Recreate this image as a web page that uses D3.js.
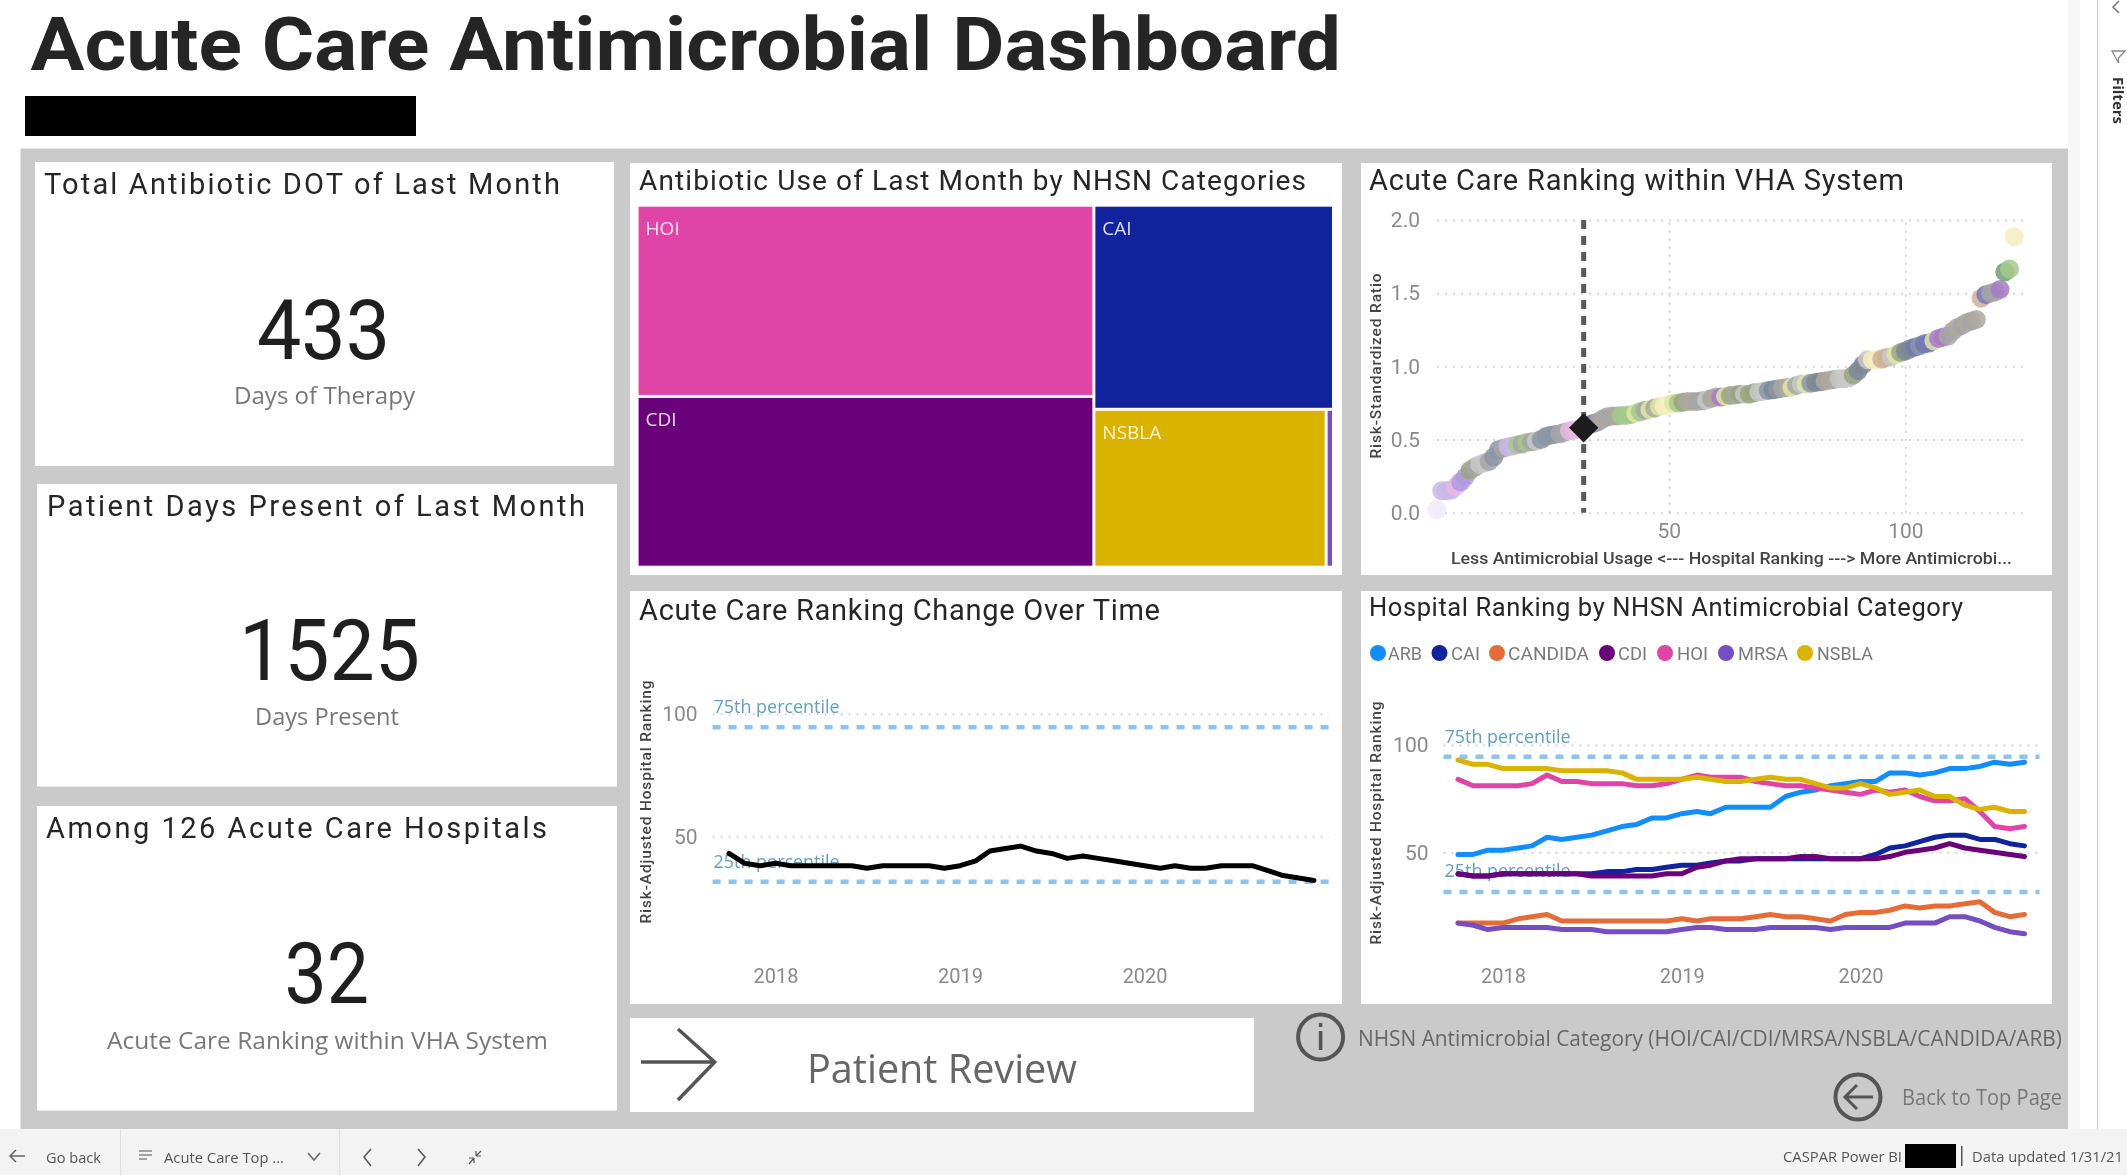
<!DOCTYPE html>
<html>
<head>
<meta charset="utf-8">
<title>Acute Care Antimicrobial Dashboard</title>
<script src="https://cdn.jsdelivr.net/npm/d3@7"></script>
<style>
  html, body { margin: 0; padding: 0; background: #fff; }
  svg { display: block; filter: blur(0.5px); }
  .tick text { font-family: Roboto, sans-serif; fill: #8a8a8a; }
</style>
</head>
<body>
<div id="chart"></div>
<script>
// treemap values, days of therapy of last month
const useHOI = 150, useCDI = 134, useCAI = 84, useNSBLA = 63, useMRSA = 2;

// risk-standardized ratio of each hospital, in ranking order (rank 1 first)
const ratioByRank = [
  0.02, 0.15, 0.15, 0.155, 0.18, 0.21, 0.245, 0.29, 0.31, 0.33,
  0.34, 0.35, 0.38, 0.43, 0.44, 0.45, 0.455, 0.465, 0.47, 0.48,
  0.485, 0.49, 0.50, 0.52, 0.53, 0.535, 0.54, 0.55, 0.56, 0.565,
  0.57, 0.58, 0.60, 0.61, 0.62, 0.64, 0.655, 0.66, 0.66, 0.665,
  0.665, 0.67, 0.68, 0.69, 0.70, 0.705, 0.715, 0.725, 0.73, 0.74,
  0.75, 0.75, 0.755, 0.76, 0.76, 0.76, 0.765, 0.77, 0.78, 0.79,
  0.79, 0.795, 0.80, 0.805, 0.81, 0.81, 0.81, 0.82, 0.825, 0.83,
  0.835, 0.84, 0.845, 0.85, 0.855, 0.855, 0.87, 0.88, 0.88, 0.885,
  0.89, 0.895, 0.90, 0.905, 0.91, 0.915, 0.915, 0.92, 0.94, 0.97,
  1.01, 1.045, 1.045, 1.045, 1.05, 1.06, 1.065, 1.08, 1.095, 1.105,
  1.12, 1.13, 1.14, 1.155, 1.16, 1.175, 1.19, 1.20, 1.205, 1.24,
  1.265, 1.28, 1.30, 1.31, 1.32, 1.465, 1.49, 1.50, 1.51, 1.525,
  1.645, 1.665, 1.885
];
const ourRank = 32;
const ratioTicks = [0, 0.5, 1, 1.5, 2];
const rankTicks = [50, 100];

// dot tone of each hospital, one letter per rank
const rankTones = (
  "paaaqbbico" + "oceecaafcf" + "coeeeeccqq" + "qnalcdccdf" +
  "ffgfcgdgjj" + "gfiddccocd" + "mgicioiioo" + "ehecdgcoge" +
  "hhdddoooih" + "hojjnnogih" + "hlellgmmcc" + "dcdcdnlccm" + "kfj").split("");

const rankingTicks = [50, 100];
const percentiles = [
  { name: "75th percentile", value: 94.5 },
  { name: "25th percentile", value: 31.5 }
];
const yearTicks = [2018, 2019, 2020];

// monthly hospital ranking, Oct 2017 to Dec 2020
const overallRanking = [43,39,38,39,38,38,38,38,38,37,38,38,38,38,37,38,40,44,45,46,44,43,41,42,41,40,39,38,37,38,37,37,38,38,38,36,34,33,32];
const arbRanking = [49,49,51,51,52,53,57,56,57,58,60,62,63,66,66,68,69,68,71,71,71,71,76,78,79,81,82,83,83,87,87,86,87,89,89,90,92,91,92];
const caiRanking = [40,39,39,40,40,40,40,40,40,40,41,41,42,42,43,44,44,45,46,46,47,47,47,47,47,47,47,47,49,52,53,55,57,58,58,56,56,54,53];
const candidaRanking = [17,17,17,17,19,20,21,18,18,18,18,18,18,18,18,19,18,19,19,19,20,21,20,20,19,18,21,22,22,23,25,24,25,25,26,27,22,20,21];
const cdiRanking = [40,39,39,40,40,40,40,40,40,39,39,39,39,39,40,40,43,44,46,47,47,47,47,48,48,47,47,47,47,48,50,51,52,54,52,51,50,49,48];
const hoiRanking = [84,81,81,81,81,82,86,83,83,82,82,82,81,81,82,84,86,85,85,85,83,82,81,81,80,79,78,77,79,78,79,76,74,74,75,69,62,61,62];
const mrsaRanking = [17,16,14,15,15,15,15,14,14,14,13,13,13,13,13,14,15,15,14,14,14,15,15,15,15,14,15,15,15,15,17,17,17,20,20,18,15,13,12];
const nsblaRanking = [93,91,91,89,89,89,89,88,88,88,88,87,84,84,84,84,85,84,83,83,84,85,84,84,82,80,80,82,80,77,78,79,76,76,72,70,71,69,69];

const months = d3.timeMonth.range(new Date(2017, 9, 1), new Date(2021, 0, 1));

const categoryColors = {
  ARB: "#118DFF", CAI: "#12239E", CANDIDA: "#E66C37", CDI: "#6B007B",
  HOI: "#E044A7", MRSA: "#744EC2", NSBLA: "#D9B300"
};
const toneColors = {
  a: "#c9b8e8", b: "#b09adf", c: "#a6a6a6", d: "#aea89f", e: "#8b95a6",
  f: "#a3c98b", g: "#dde6a6", h: "#7d8894", i: "#9aa47c", j: "#f6efbf",
  k: "#6f9d7a", l: "#7378b6", m: "#a87ac8", n: "#cdb097", o: "#c8c8c8",
  p: "#efeafb", q: "#e8b8e0"
};

const width = 2127;
const height = 1175;
const din = "Roboto, sans-serif";
const segoe = "'Open Sans', sans-serif";

const svg = d3.select("#chart").append("svg")
  .attr("width", width)
  .attr("height", height)
  .attr("viewBox", `0 0 ${width} ${height}`);

function box(x0, y0, x1, y1, fill) {
  return svg.append("rect")
    .attr("x", x0).attr("y", y0)
    .attr("width", x1 - x0).attr("height", y1 - y0)
    .attr("fill", fill);
}

// text squeezed to the width it has in the screenshot
function label(text, x0, x1, baseline, size, font, fill, weight) {
  return svg.append("text")
    .attr("x", x0).attr("y", baseline)
    .attr("textLength", x1 - x0)
    .attr("lengthAdjust", "spacingAndGlyphs")
    .attr("font-family", font)
    .attr("font-size", size)
    .attr("font-weight", weight || 400)
    .attr("fill", fill)
    .text(text);
}

// card titles keep their glyphs, the original font has a bit of tracking
function cardTitle(text, x0, x1, baseline, size) {
  return label(text, x0, x1, baseline, size || 29, din, "#262626").attr("lengthAdjust", "spacing");
}

function icon(d, stroke, w) {
  return svg.append("path").attr("d", d)
    .attr("fill", "none").attr("stroke", stroke)
    .attr("stroke-width", w || 2);
}

// page
box(20.5, 148.5, 2068, 1129, "#cacaca");
box(2068, 0, 2080, 1129, "#f7f7f7");
box(2097, 0, 2098, 1129, "#d0d0d0");
box(0, 1129, width, height, "#f3f3f3");

label("Acute Care Antimicrobial Dashboard", 30.5, 1341, 70, 75, din, "#252525", 700);
box(25, 96, 416, 136, "#000");

// cards
box(35, 162, 614, 466, "#fff");
box(37, 484, 617, 786.5, "#fff");
box(37, 806, 617, 1110.5, "#fff");
box(630, 163, 1342, 575, "#fff");
box(1361, 163, 2052, 575, "#fff");
box(630, 591, 1342, 1004, "#fff");
box(1361, 591, 2052, 1004, "#fff");
box(630, 1018, 1254, 1112, "#fff");

// KPI cards
cardTitle("Total Antibiotic DOT of Last Month", 44, 560, 194);
label("433", 257, 390, 359, 84, din, "#1f1f1f");
label("Days of Therapy", 234, 415, 404, 24, segoe, "#777");

cardTitle("Patient Days Present of Last Month", 47, 585, 516);
label("1525", 239, 420, 680, 86, din, "#1f1f1f");
label("Days Present", 255, 399, 725, 24, segoe, "#777");

cardTitle("Among 126 Acute Care Hospitals", 46, 547, 838);
label("32", 284.5, 369, 1003, 85, din, "#1f1f1f");
label("Acute Care Ranking within VHA System", 107, 548, 1049, 24, segoe, "#777");

// treemap
cardTitle("Antibiotic Use of Last Month by NHSN Categories", 639, 1306, 190, 28);

const treeData = {
  children: [
    { children: [{ name: "HOI", value: useHOI }, { name: "CDI", value: useCDI }] },
    { children: [
      { name: "CAI", value: useCAI },
      { children: [{ name: "NSBLA", value: useNSBLA }, { name: "MRSA", value: useMRSA }] }
    ] }
  ]
};
const treeRoot = d3.treemap()
  .tile(d3.treemapSliceDice)
  .size([693.4, 359])
  .paddingInner(3)(d3.hierarchy(treeData).sum(d => d.value || 0));

const treeG = svg.append("g").attr("transform", "translate(638.6,206.7)");
const leaves = treeG.selectAll("g").data(treeRoot.leaves()).join("g");
leaves.append("rect")
  .attr("x", d => d.x0).attr("y", d => d.y0)
  .attr("width", d => d.x1 - d.x0).attr("height", d => d.y1 - d.y0)
  .attr("fill", d => categoryColors[d.data.name]);
leaves.filter(d => d.data.name !== "MRSA").append("text")
  .attr("x", d => d.x0 + 7).attr("y", d => d.y0 + 28)
  .attr("font-family", segoe).attr("font-size", 19)
  .attr("fill", "#fff").attr("fill-opacity", 0.85)
  .text(d => d.data.name);

// scatter
cardTitle("Acute Care Ranking within VHA System", 1369, 1904, 190);

const rankX = d3.scaleLinear().domain([1, 125]).range([1437, 2023.7]);
const ratioY = d3.scaleLinear().domain([0, 2]).range([512.7, 220]);

function gridStyle(g, fontSize) {
  g.select(".domain").remove();
  g.selectAll(".tick line")
    .attr("stroke", "#d4d4d4").attr("stroke-width", 2)
    .attr("stroke-dasharray", "2 6");
  g.selectAll(".tick text").attr("font-size", fontSize);
}

svg.append("g")
  .attr("transform", "translate(0,512.7)")
  .call(d3.axisBottom(rankX).tickValues(rankTicks).tickSize(-292.7).tickPadding(10))
  .call(g => gridStyle(g, 21));
svg.append("g")
  .attr("transform", "translate(1437,0)")
  .call(d3.axisLeft(ratioY).tickValues(ratioTicks).tickFormat(d3.format(".1f"))
    .tickSize(-586.7).tickPadding(17))
  .call(g => gridStyle(g, 21));

svg.append("line")
  .attr("x1", rankX(ourRank)).attr("x2", rankX(ourRank))
  .attr("y1", ratioY(2)).attr("y2", ratioY(0))
  .attr("stroke", "#5a5a5a").attr("stroke-width", 5)
  .attr("stroke-dasharray", "9 7");

svg.append("g").selectAll("circle")
  .data(ratioByRank)
  .join("circle")
  .attr("cx", (d, i) => rankX(i + 1))
  .attr("cy", d => ratioY(d))
  .attr("r", 9.5)
  .attr("fill", (d, i) => toneColors[rankTones[i]])
  .attr("fill-opacity", 0.85);

svg.append("path")
  .attr("d", d3.symbol(d3.symbolSquare, 430)())
  .attr("transform", `translate(${rankX(ourRank)},${ratioY(ratioByRank[ourRank - 1])}) rotate(45)`)
  .attr("fill", "#1c1c1c");

label("Less Antimicrobial Usage <--- Hospital Ranking ---> More Antimicrobi...", 1451, 2012, 564, 16, din, "#444", 500);

function yTitle(text, cx, cy, len) {
  svg.append("text")
    .attr("transform", `translate(${cx},${cy}) rotate(-90)`)
    .attr("text-anchor", "middle")
    .attr("textLength", len)
    .attr("lengthAdjust", "spacing")
    .attr("font-family", din).attr("font-size", 15.5).attr("font-weight", 500)
    .attr("fill", "#444")
    .text(text);
}
yTitle("Risk-Standardized Ratio", 1381, 366, 185);

// ranking line charts
function rankingChart(o) {
  const x = d3.scaleTime().domain(d3.extent(months)).range(o.xRange);
  const y = d3.scaleLinear().domain([0, 100]).range(o.yRange);

  svg.append("g")
    .attr("transform", `translate(${o.gridLeft},0)`)
    .call(d3.axisLeft(y).tickValues(rankingTicks).tickSize(o.gridLeft - o.gridRight).tickPadding(15))
    .call(g => gridStyle(g, 21));

  svg.append("g")
    .attr("transform", "translate(0,968.5)")
    .call(d3.axisBottom(x)
      .tickValues(yearTicks.map(yr => new Date(yr, 0, 1)))
      .tickFormat(d3.timeFormat("%Y"))
      .tickSize(0).tickPadding(0))
    .call(g => gridStyle(g, 20));

  percentiles.forEach(p => {
    svg.append("line")
      .attr("x1", o.gridLeft).attr("x2", o.gridRight)
      .attr("y1", y(p.value)).attr("y2", y(p.value))
      .attr("stroke", "#8cc4ec").attr("stroke-width", 4.5)
      .attr("stroke-dasharray", "8 8");
    label(p.name, o.gridLeft + 1, o.gridLeft + 127, y(p.value) - o.labelGap[p.value], 19, segoe, "#5f9fc4");
  });

  const line = d3.line().x((d, i) => x(months[i])).y(d => y(d));
  o.series.forEach(s => {
    svg.append("path")
      .attr("d", line(s.values))
      .attr("fill", "none")
      .attr("stroke", s.color)
      .attr("stroke-width", 5)
      .attr("stroke-linejoin", "round")
      .attr("stroke-linecap", "round");
  });
}

cardTitle("Acute Care Ranking Change Over Time", 639, 1160, 620);
yTitle("Risk-Adjusted Hospital Ranking", 651, 802, 243);
rankingChart({
  xRange: [729, 1314],
  yRange: [958.9, 713.7],
  gridLeft: 712.6,
  gridRight: 1329,
  labelGap: { 94.5: 14, 31.5: 14 },
  series: [{ values: overallRanking, color: "#000" }]
});

cardTitle("Hospital Ranking by NHSN Antimicrobial Category", 1369, 1963, 616, 25.5);
yTitle("Risk-Adjusted Hospital Ranking", 1381, 823, 243);

const legendItems = [
  { name: "ARB", cx: 1378, x0: 1388, x1: 1422 },
  { name: "CAI", cx: 1439.5, x0: 1451, x1: 1480 },
  { name: "CANDIDA", cx: 1497, x0: 1508, x1: 1589 },
  { name: "CDI", cx: 1607, x0: 1618, x1: 1647 },
  { name: "HOI", cx: 1665, x0: 1677, x1: 1708 },
  { name: "MRSA", cx: 1726, x0: 1738, x1: 1788 },
  { name: "NSBLA", cx: 1805, x0: 1817, x1: 1873 }
];
legendItems.forEach(d => {
  svg.append("circle").attr("cx", d.cx).attr("cy", 653).attr("r", 8).attr("fill", categoryColors[d.name]);
  label(d.name, d.x0, d.x1, 660, 19, din, "#7a7a7a");
});

rankingChart({
  xRange: [1458, 2024.5],
  yRange: [959.6, 745],
  gridLeft: 1443.5,
  gridRight: 2039.5,
  labelGap: { 94.5: 14, 31.5: 15 },
  series: [
    { values: arbRanking, color: categoryColors.ARB },
    { values: caiRanking, color: categoryColors.CAI },
    { values: candidaRanking, color: categoryColors.CANDIDA },
    { values: cdiRanking, color: categoryColors.CDI },
    { values: hoiRanking, color: categoryColors.HOI },
    { values: mrsaRanking, color: categoryColors.MRSA },
    { values: nsblaRanking, color: categoryColors.NSBLA }
  ]
});

// buttons below the charts
icon("M641 1062H714M678 1029L714.7 1062L678 1100", "#555", 3.5);
label("Patient Review", 807, 1077, 1083, 40, segoe, "#666");

svg.append("circle").attr("cx", 1320.6).attr("cy", 1037).attr("r", 22.5)
  .attr("fill", "none").attr("stroke", "#555").attr("stroke-width", 4);
icon("M1320.6 1031V1050M1320.6 1023V1027", "#555", 3.5);
label("NHSN Antimicrobial Category (HOI/CAI/CDI/MRSA/NSBLA/CANDIDA/ARB)", 1358, 2062, 1046, 22, segoe, "#666");

svg.append("circle").attr("cx", 1858).attr("cy", 1097).attr("r", 22.5)
  .attr("fill", "none").attr("stroke", "#555").attr("stroke-width", 4);
icon("M1873 1097H1845M1857 1085L1845 1097L1857 1109", "#555", 3);
label("Back to Top Page", 1902, 2062, 1105, 22, segoe, "#777");

// report footer
icon("M25 1156H10M16 1150L10 1156L16 1162", "#666", 1.5);
label("Go back", 46, 101, 1163, 15, segoe, "#555");
box(120, 1129, 121, 1175, "#ddd");
icon("M139 1151H152M139 1155H152M139 1159H147", "#888", 1.5);
label("Acute Care Top ...", 164, 284, 1163, 15, segoe, "#555");
icon("M308 1153L314 1160L320 1153", "#666", 1.5);
box(339, 1129, 340, 1175, "#ddd");
icon("M371 1149L364 1157L371 1166", "#555", 1.5);
icon("M418 1149L425 1157L418 1166", "#555", 1.5);
icon("M469 1164L474 1158M474 1158V1163M474 1158H469M481 1151L476 1156M476 1156V1151M476 1156H481", "#555", 1.2);

label("CASPAR Power BI", 1783, 1902, 1162, 15, segoe, "#555");
box(1905, 1144, 1956, 1168, "#000");
box(1961, 1146, 1962.5, 1166, "#555");
label("Data updated 1/31/21", 1972, 2123, 1162, 15, segoe, "#555");

// filters pane
icon("M2119 1L2113 7L2119 13", "#777", 1.5);
icon("M2112 51H2125L2118.5 58V63Z", "#888", 1.3);
svg.append("text")
  .attr("transform", "translate(2113,77) rotate(90)")
  .attr("textLength", 47)
  .attr("lengthAdjust", "spacingAndGlyphs")
  .attr("font-family", segoe).attr("font-size", 14).attr("font-weight", 700)
  .attr("fill", "#333")
  .text("Filters");
</script>
</body>
</html>
